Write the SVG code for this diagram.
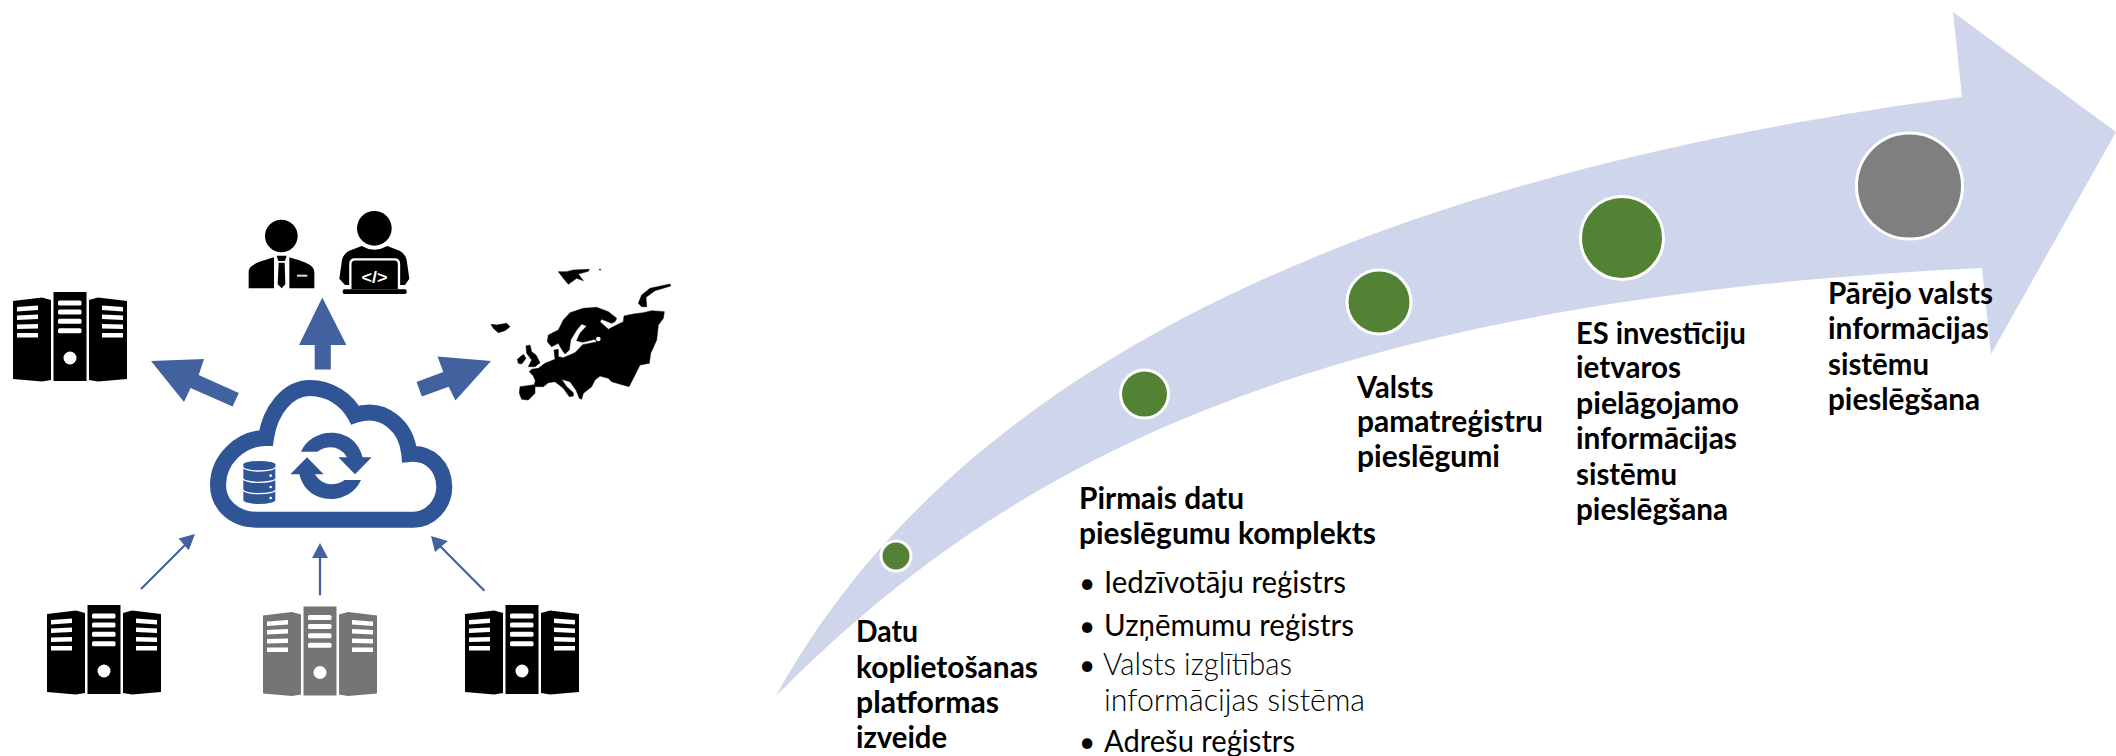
<svg xmlns="http://www.w3.org/2000/svg" xmlns:xlink="http://www.w3.org/1999/xlink" width="2116" height="756" viewBox="0 0 2116 756">
<style>
text{font-family:Lato,"Open Sans","Noto Sans",sans-serif;fill:#000;font-size:31px}
.b{font-weight:700}
.r{font-weight:400}
.l{font-weight:300}
.bu{font-weight:400;font-size:28px}
.dot{stroke:#fff;stroke-width:3}
.g{fill:#548235}
.big{fill:#41619f}
.thin{stroke:#41619f;stroke-width:2.2;fill:none}
.head{fill:#41619f}
.cb{fill:#2f5597}
</style>
<defs>
<g id="server">
<path d="M0,9 L29,5.5 L38,8 V88 L29,89.5 L0,87 Z M40.500,0 H73.500 V89 H40.500 Z M76,8 L85,5.500 L114,9 V87 L85,89.500 L76,88 Z"/>
<g fill="#fff">
<rect x="45" y="8.500" width="23.500" height="5" rx="1.500"/><rect x="45" y="17.500" width="23.500" height="5" rx="1.500"/><rect x="45" y="26.700" width="23.500" height="5" rx="1.500"/><rect x="45" y="36.300" width="23.500" height="5" rx="1.500"/>
<circle cx="57" cy="66" r="6.500"/>
<path d="M4,15 L25,13.500 V18 L4,19.500 Z M4,23.500 L25,22.500 V27 L4,28 Z M4,32.500 L25,32 V36.500 L4,37 Z M4,41 H25 V45.500 H4 Z"/>
<path d="M89,13.500 L110,15 V19.500 L89,18 Z M89,22.500 L110,23.500 V28 L89,27 Z M89,32 L110,32.500 V37 L89,36.500 Z M89,41 H110 V45.500 H89 Z"/>
</g>
</g>
<path id="sync" d="M303,275 C318,240 355,218 393,218 C445,218 478,250 488,292 L515,292 L465,343 L415,292 L441,292 C430,272 410,262 393,262 C378,262 365,266 352,275 Z"/>
</defs>

<g id="timeline-arrow">
<path fill="#cfd5ea" d="M776,696 C925,425 1260,190 1962,97 L1953,12 L2116,132 L1991,354 L1982,268 C1300,300 1000,470 776,696 Z"/>
</g>

<g id="connectors">
<path class="big" d="M322.300,297.600 L346.400,345 H330.800 V369.400 H314.700 V345 H299 Z"/>
<path class="big" d="M151,361 L204,359 L198.700,375 L238.800,393 L232.600,406.600 L190.600,388 L184,402 Z"/>
<path class="big" d="M491,361 L437.500,356.400 L443.300,372 L416.500,382 L421.900,396.500 L448.700,386.800 L455.400,400.500 Z"/>
<path class="thin" d="M141,589 L188,542"/><path class="head" d="M195,534 L178.600,538.400 L188.800,550.300 Z"/>
<path class="thin" d="M320,595.400 V555"/><path class="head" d="M320,543 L328,558 H312 Z"/>
<path class="thin" d="M484.400,590.700 L438,544"/><path class="head" d="M431,536 L447.800,541 L435,552 Z"/>
</g>

<g id="cloud">
<path fill="none" stroke="#2f5597" stroke-width="16" stroke-linejoin="miter" d="M257,519.700 C232,519.700 218,503 218,485 C218,460 240,438 266,438 C270,410 288,388 310,388 C330,388 347,400 355,415 C385,405 407,428 409.300,454 C430,452 444,467 444.300,487 C444,505 430,519.700 413,519.700 Z"/>
<g transform="translate(200 360) scale(.33333)">
<use xlink:href="#sync" href="#sync" class="cb"/>
<use xlink:href="#sync" href="#sync" class="cb" transform="rotate(180 393 317.500)"/>
<path class="cb" d="M130,313 A48,10 0 0 1 226,313 V420 A48,12 0 0 1 130,420 Z"/>
<g fill="none" stroke="#fff" stroke-width="4">
<path d="M130,322 A48,11 0 0 0 226,322"/><path d="M130,356 A48,11 0 0 0 226,356"/><path d="M130,390 A48,11 0 0 0 226,390"/>
</g>
<g fill="#fff"><circle cx="212" cy="347" r="4"/><circle cx="212" cy="381" r="4"/><circle cx="212" cy="414" r="4"/></g>
</g>
</g>

<g id="server-top"><use xlink:href="#server" href="#server" x="13" y="292"/></g>
<g id="server-bottom-left"><use xlink:href="#server" href="#server" x="47" y="605"/></g>
<g id="server-bottom-middle" fill="#757575"><use xlink:href="#server" href="#server" x="263" y="606.500"/></g>
<g id="server-bottom-right"><use xlink:href="#server" href="#server" x="465" y="605"/></g>

<g id="people">
<g transform="translate(230 190) scale(.33333)">
<circle cx="154" cy="138" r="49"/>
<path d="M132,202 V295 H56 V245 C56,222 100,212 132,202 Z M178,202 C210,212 253,222 253,245 V295 H178 Z M140,197 H170 L165,213 H145 Z M146,218 H164 L166,283 L155,295 L143,283 Z"/>
<rect x="201" y="254" width="31" height="6" fill="#ddd"/>
<circle cx="433" cy="115" r="52"/>
<path d="M395,168 Q433,190 472,168 L510,183 Q526,192 530,210 L538,266 L525,285 H345 L328,266 L336,210 Q340,192 356,183 Z"/>
<path d="M361,298 V222 Q361,208 375,208 H493 Q507,208 507,222 V298" fill="#000" stroke="#fff" stroke-width="7"/>
<rect x="338" y="298" width="192" height="14" rx="5"/>
</g>
<text x="361.500" y="282.500" style="font-family:'Liberation Sans',sans-serif;font-size:17px;font-weight:700;fill:#fff" textLength="26" lengthAdjust="spacingAndGlyphs">&lt;/&gt;</text>
</g>

<g id="europe">
<g transform="translate(230 190) scale(.33333)" stroke="#000" stroke-width="1.500" stroke-linejoin="round">
<path d="M870,590 L913,584 L916,572 L910,558 L898,545 L905,538 L925,535 L945,520 L975,508 L972,480 L985,478 L985,500 L1000,503 L1035,488 L1058,464 L1100,456 L1095,448 L1058,457 L1040,452 L1050,430 L1070,408 L1055,402 L1040,420 L1022,450 L1018,480 L1005,492 L995,478 L985,460 L965,470 L952,455 L955,435 L985,420 L1000,390 L1020,368 L1060,355 L1100,352 L1135,365 L1160,385 L1155,395 L1145,400 L1115,388 L1110,395 L1135,418 L1160,405 L1180,395 L1182,378 L1210,372 L1240,368 L1265,362 L1303,365 L1300,385 L1285,405 L1280,450 L1262,490 L1258,520 L1230,525 L1215,555 L1197,590 L1145,575 L1135,565 L1110,558 L1095,570 L1085,590 L1060,610 L1055,628 L1048,625 L1038,600 L1020,575 L995,568 L1010,590 L1030,608 L1030,618 L1018,620 L1000,595 L975,575 L955,578 L940,590 L915,590 L915,610 L895,630 L875,628 L868,610 Z"/>
<circle cx="1105" cy="447" r="7" fill="#fff" stroke="none"/>
<path d="M1225,340 L1235,315 L1260,295 L1320,282 L1322,288 L1275,302 L1248,322 L1250,350 L1235,350 Z"/>
<path d="M985,245 L1010,245 L1030,240 L1078,238 L1075,244 L1045,252 L1060,272 L1040,265 L1015,283 L1000,265 Z"/>
<path d="M783,403 L800,405 L830,400 L840,410 L825,422 L805,428 L790,415 Z"/>
<path d="M888,468 L900,465 L905,485 L918,495 L930,518 L915,530 L895,530 L905,510 L890,490 Z"/>
<path d="M862,508 L880,493 L888,505 L875,522 L865,520 Z"/>
<path d="M1108,238 h4 v2 h-4 Z"/>
</g>
</g>

<g id="milestone-1"><circle class="dot g" cx="896" cy="556" r="15"/>
<text class="b" x="856" y="642" textLength="62" lengthAdjust="spacingAndGlyphs">Datu</text>
<text class="b" x="856" y="677.500" textLength="182" lengthAdjust="spacingAndGlyphs">koplietošanas</text>
<text class="b" x="856" y="713" textLength="143" lengthAdjust="spacingAndGlyphs">platformas</text>
<text class="b" x="856" y="748" textLength="91" lengthAdjust="spacingAndGlyphs">izveide</text>
</g>
<g id="milestone-2"><circle class="dot g" cx="1144.500" cy="394" r="24"/>
<text class="b" x="1079" y="509" textLength="165" lengthAdjust="spacingAndGlyphs">Pirmais datu</text>
<text class="b" x="1079" y="544" textLength="297" lengthAdjust="spacingAndGlyphs">pieslēgumu komplekts</text>
<text class="bu" x="1079" y="593">•</text><text class="r" x="1104" y="593" textLength="242" lengthAdjust="spacingAndGlyphs">Iedzīvotāju reģistrs</text>
<text class="bu" x="1079" y="636">•</text><text class="r" x="1104" y="636" textLength="250" lengthAdjust="spacingAndGlyphs">Uzņēmumu reģistrs</text>
<text class="bu" x="1079" y="675">•</text><text class="l" x="1103" y="675" textLength="189" lengthAdjust="spacingAndGlyphs">Valsts izglītības</text>
<text class="l" x="1104" y="711" textLength="261" lengthAdjust="spacingAndGlyphs">informācijas sistēma</text>
<text class="bu" x="1079" y="752">•</text><text class="r" x="1104" y="752" textLength="191" lengthAdjust="spacingAndGlyphs">Adrešu reģistrs</text>
</g>
<g id="milestone-3"><circle class="dot g" cx="1379" cy="302" r="32"/>
<text class="b" x="1357" y="397.500" textLength="76.500" lengthAdjust="spacingAndGlyphs">Valsts</text>
<text class="b" x="1357" y="432" textLength="186" lengthAdjust="spacingAndGlyphs">pamatreģistru</text>
<text class="b" x="1357" y="467" textLength="143" lengthAdjust="spacingAndGlyphs">pieslēgumi</text>
</g>
<g id="milestone-4"><circle class="dot g" cx="1622" cy="238" r="41.500"/>
<text class="b" x="1576" y="343.500" textLength="170" lengthAdjust="spacingAndGlyphs">ES investīciju</text>
<text class="b" x="1576" y="378" textLength="105" lengthAdjust="spacingAndGlyphs">ietvaros</text>
<text class="b" x="1576" y="413.500" textLength="163" lengthAdjust="spacingAndGlyphs">pielāgojamo</text>
<text class="b" x="1576" y="449" textLength="161" lengthAdjust="spacingAndGlyphs">informācijas</text>
<text class="b" x="1576" y="485" textLength="101" lengthAdjust="spacingAndGlyphs">sistēmu</text>
<text class="b" x="1576" y="520" textLength="152" lengthAdjust="spacingAndGlyphs">pieslēgšana</text>
</g>
<g id="milestone-5"><circle cx="1909.500" cy="186" r="53" class="dot" fill="#7f7f7f"/>
<text class="b" x="1828" y="303.500" textLength="165" lengthAdjust="spacingAndGlyphs">Pārējo valsts</text>
<text class="b" x="1828" y="339" textLength="161" lengthAdjust="spacingAndGlyphs">informācijas</text>
<text class="b" x="1828" y="374.500" textLength="101" lengthAdjust="spacingAndGlyphs">sistēmu</text>
<text class="b" x="1828" y="410" textLength="152" lengthAdjust="spacingAndGlyphs">pieslēgšana</text>
</g>
</svg>
